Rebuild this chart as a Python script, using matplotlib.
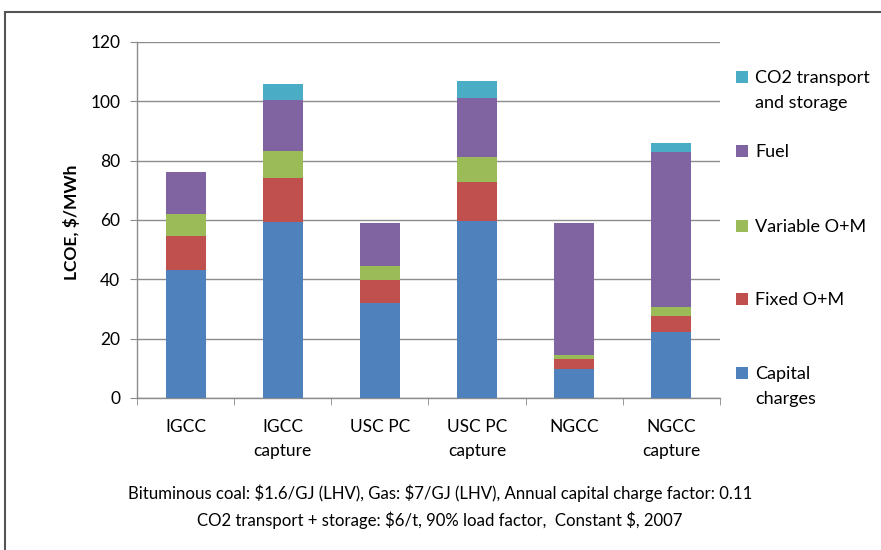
import matplotlib.pyplot as plt
import matplotlib.patches as patches
import numpy as np

# plant types
categories = ["IGCC", "IGCC\ncapture", "USC PC", "USC PC\ncapture", "NGCC", "NGCC\ncapture"]

# cost components, $/MWh
capital = [43.3, 59.2, 31.9, 59.6, 9.8, 22.2]
fixed_om = [11.3, 15.0, 7.8, 13.2, 3.3, 5.5]
variable_om = [7.5, 9.0, 4.9, 8.5, 1.3, 2.9]
fuel = [14.2, 17.2, 14.4, 19.8, 44.5, 52.3]
co2_ts = [0, 5.5, 0, 5.7, 0, 3.1]

series_names = ["Capital\ncharges", "Fixed O+M", "Variable O+M", "Fuel", "CO2 transport\nand storage"]
series_colors = ['#4F81BD', '#C0504D', '#9BBB59', '#8064A2', '#4BACC6']

caption = ("Bituminous coal: \\$1.6/GJ (LHV), Gas: \\$7/GJ (LHV), Annual capital charge factor: 0.11\n"
           "CO2 transport + storage: \\$6/t, 90% load factor,  Constant \\$, 2007")

FONT = 'Lato'

fig = plt.figure(figsize=(8.81, 5.5), dpi=100)
ax = fig.add_axes([137/881, 1 - 398/550, (720 - 137)/881, (398 - 42)/550])

# outer frame of the original picture
fig.add_artist(patches.Rectangle((5/881, -0.05), 1.0, 1 - 12/550 + 0.05,
                                 transform=fig.transFigure, fill=False,
                                 ec='#555555', lw=1.5))

x = np.arange(len(categories))
bottom = np.zeros(len(categories))
for vals, name, col in zip([capital, fixed_om, variable_om, fuel, co2_ts], series_names, series_colors):
    ax.bar(x, vals, width=0.41, bottom=bottom, color=col, label=name, zorder=3)
    bottom += np.array(vals)

ax.set_xlim(-0.5, len(categories) - 0.5)
ax.set_ylim(0, 120)
ax.set_yticks(range(0, 121, 20))
ax.grid(axis='y', color='#8c8c8c', lw=1, zorder=0)

for s in ['top', 'right']:
    ax.spines[s].set_visible(False)
for s in ['left', 'bottom']:
    ax.spines[s].set_color('#8c8c8c')
    ax.spines[s].set_linewidth(1)

ax.set_xticks(x)
ax.set_xticklabels(categories, fontsize=12.5, family=FONT, linespacing=1.6)
ax.set_xticks(np.arange(-0.5, len(categories)), minor=True)
ax.tick_params(axis='x', which='major', length=0, pad=15)
ax.tick_params(axis='x', which='minor', length=5, color='#8c8c8c', direction='out')
ax.tick_params(axis='y', length=5, color='#8c8c8c', direction='out', pad=7)
for lbl in ax.get_yticklabels():
    lbl.set_fontsize(12.5)
    lbl.set_family(FONT)

fig.text(72/881, 1 - 222/550, "LCOE, \\$/MWh", fontsize=12.5, fontweight='bold',
         family=FONT, rotation=90, ha='center', va='center')

# legend, drawn top-down in reverse order
legend_y = [77, 151, 226, 299, 373]
for yy, name, col in zip(legend_y, series_names[::-1], series_colors[::-1]):
    fig.add_artist(patches.Rectangle((736/881, 1 - (yy + 6)/550), 12/881, 12/550,
                                     transform=fig.transFigure, fc=col, ec='none'))
    fig.text(755/881, 1 - (yy - 7)/550, name, fontsize=13, family=FONT,
             va='top', ha='left', linespacing=1.7)

fig.text(440/881, 1 - 485/550, caption, fontsize=12.1, family=FONT,
         ha='center', va='top', linespacing=1.63)

fig.savefig("out.png", dpi=100)
